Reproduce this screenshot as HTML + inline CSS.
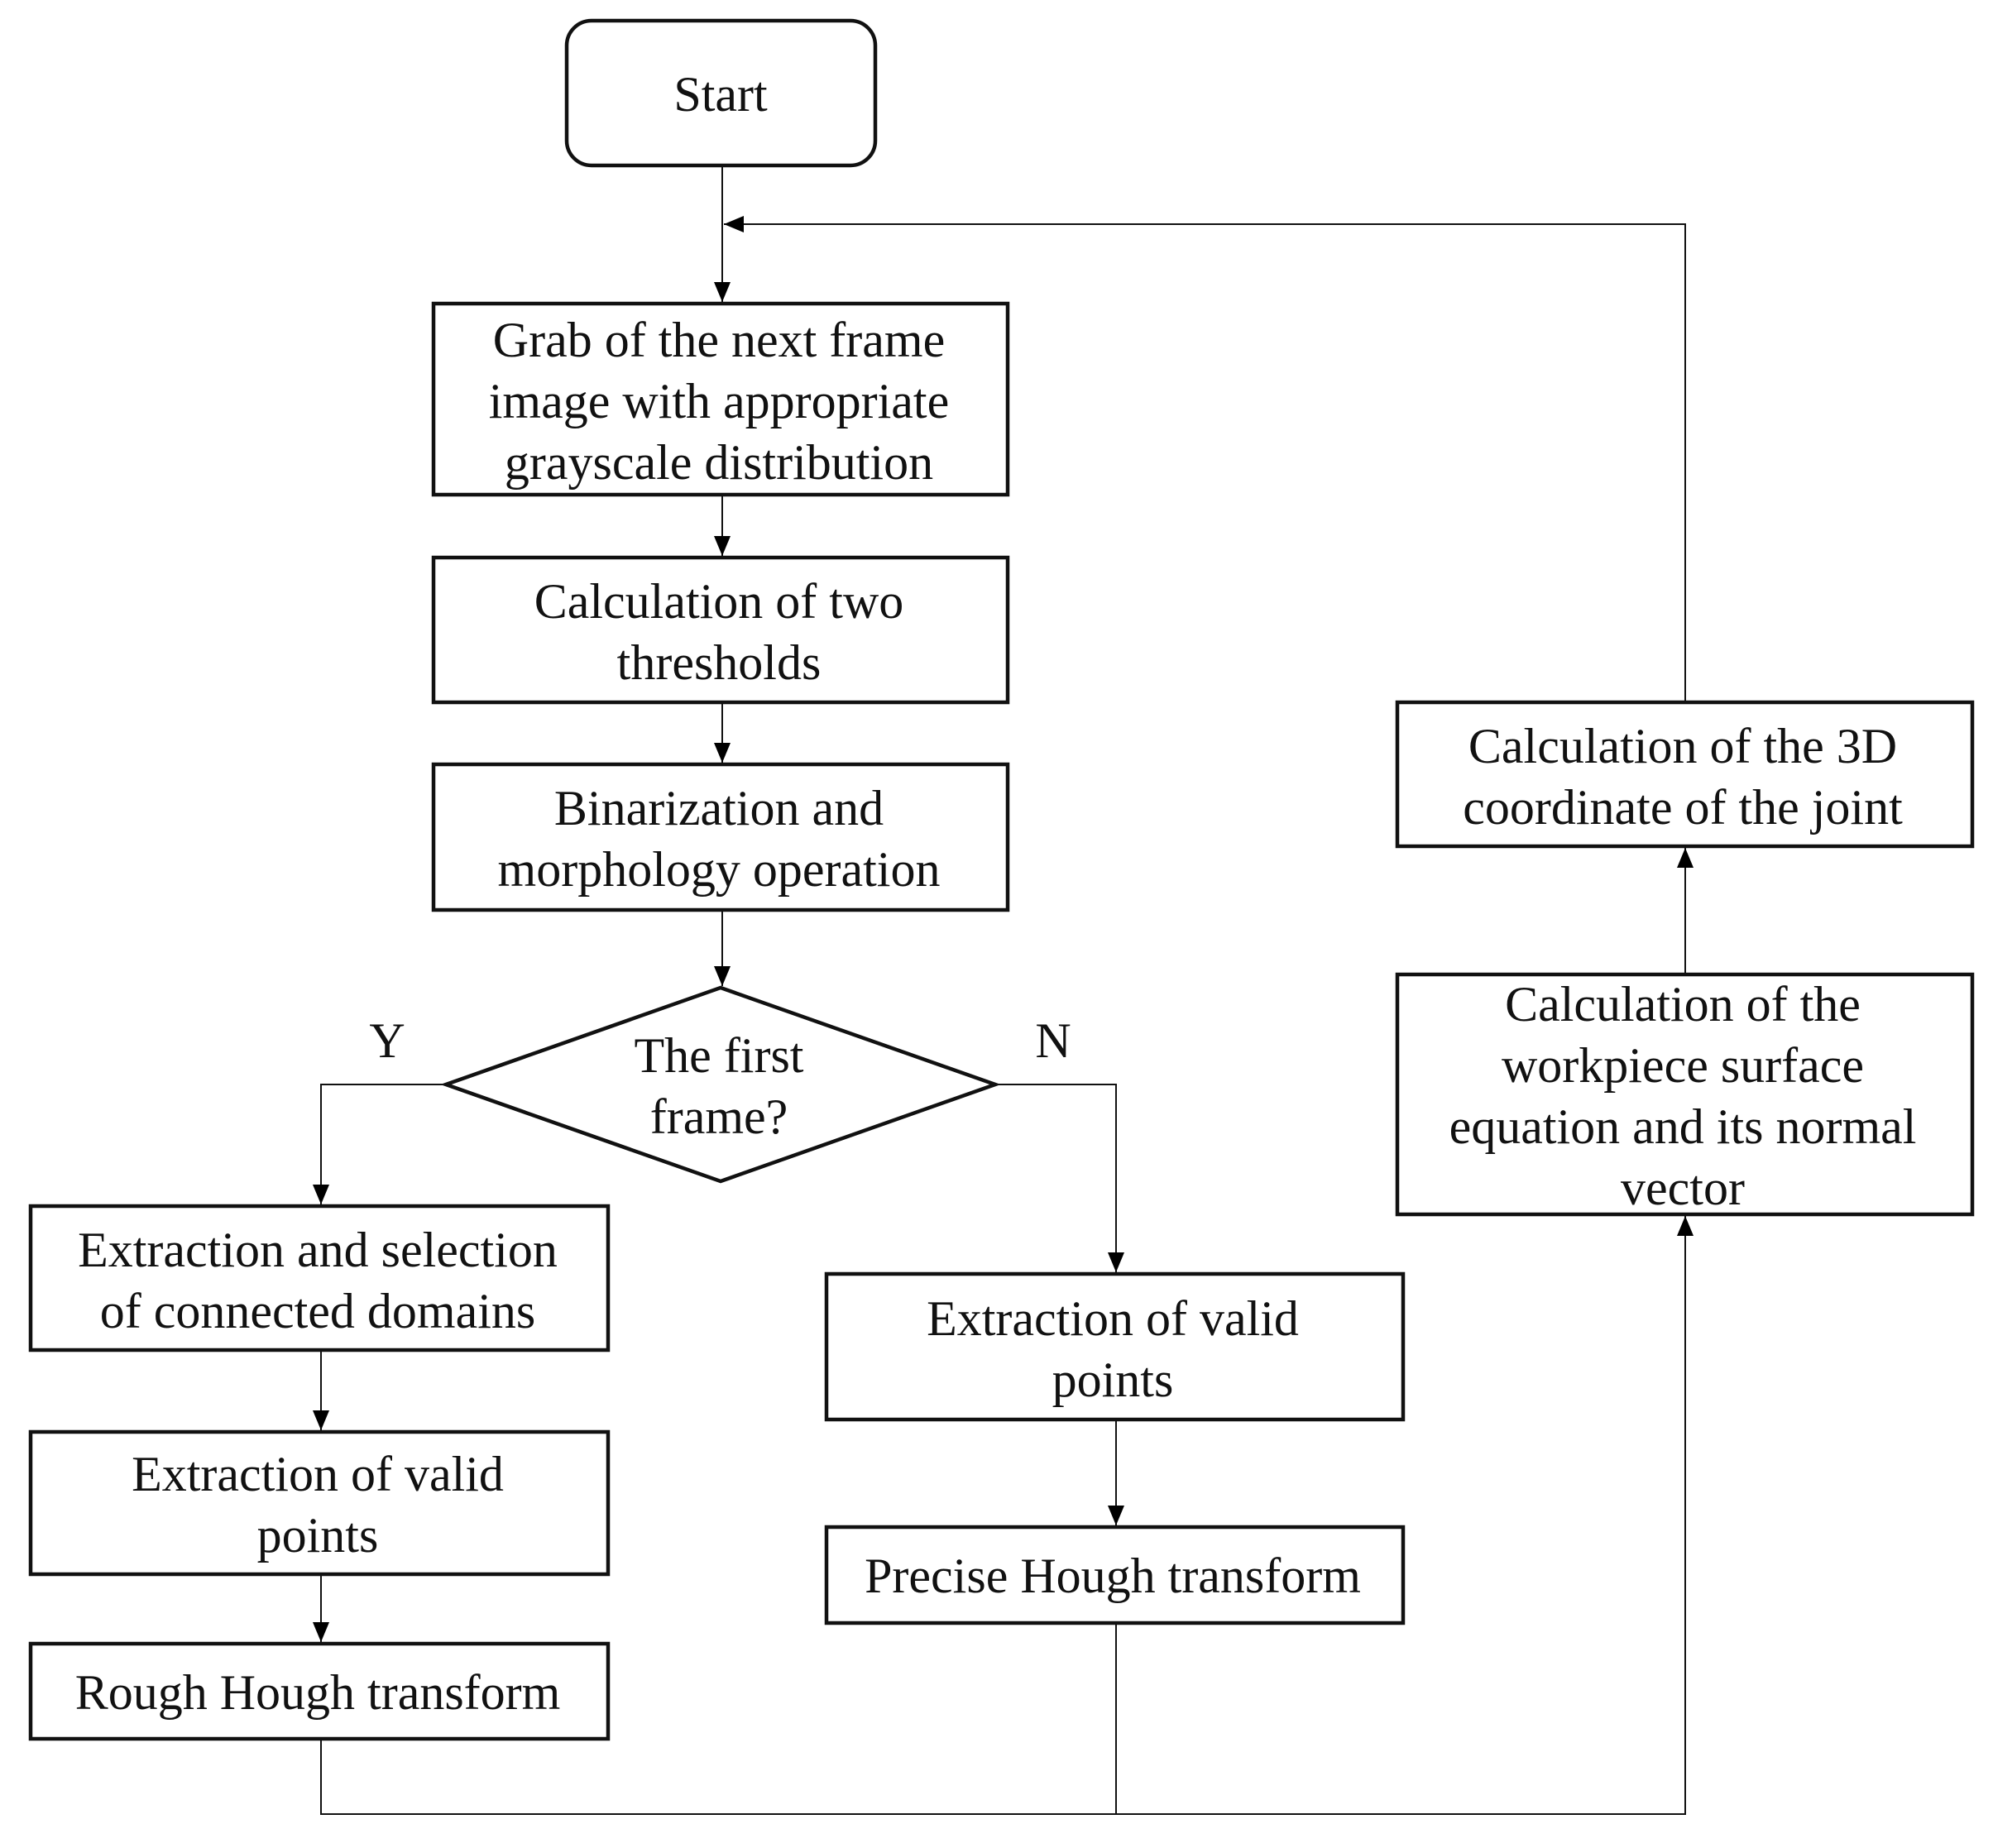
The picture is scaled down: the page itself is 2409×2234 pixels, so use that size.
<!DOCTYPE html>
<html><head><meta charset="utf-8"><style>
html,body{margin:0;padding:0;background:#fff}
svg text{font-family:"Liberation Serif",serif;font-size:60px;fill:#111}
</style></head><body>
<svg width="2409" height="2229" viewBox="0 0 2409 2229" xmlns="http://www.w3.org/2000/svg">
<defs>
<marker id="b" viewBox="0 0 24 20" markerWidth="24" markerHeight="20" refX="24" refY="10" orient="auto" markerUnits="userSpaceOnUse"><path d="M0,0 L24,10 L0,20 z" fill="#000"/></marker></defs>
<g fill="none" stroke="#111" stroke-width="4.5">
<rect x="685" y="25" width="373" height="175" rx="30"/>
<rect x="524" y="367" width="694" height="231"/>
<rect x="524" y="674" width="694" height="175"/>
<rect x="524" y="924" width="694" height="176"/>
<polygon points="539,1311 871,1194 1203,1311 871,1428"/>
<rect x="37" y="1458" width="698" height="174"/>
<rect x="37" y="1731" width="698" height="172"/>
<rect x="37" y="1987" width="698" height="115"/>
<rect x="999" y="1540" width="697" height="176"/>
<rect x="999" y="1846" width="697" height="116"/>
<rect x="1689" y="849" width="695" height="174"/>
<rect x="1689" y="1178" width="695" height="290"/>
</g>
<g fill="none" stroke="#111" stroke-width="2">
<line x1="873" y1="200" x2="873" y2="365" marker-end="url(#b)"/>
<polyline points="2037,849 2037,271 875,271" marker-end="url(#b)"/>
<line x1="873" y1="598" x2="873" y2="672" marker-end="url(#b)"/>
<line x1="873" y1="849" x2="873" y2="922" marker-end="url(#b)"/>
<line x1="873" y1="1100" x2="873" y2="1192" marker-end="url(#b)"/>
<polyline points="539,1311 388,1311 388,1456" marker-end="url(#b)"/>
<polyline points="1203,1311 1349,1311 1349,1538" marker-end="url(#b)"/>
<line x1="388" y1="1632" x2="388" y2="1729" marker-end="url(#b)"/>
<line x1="388" y1="1903" x2="388" y2="1985" marker-end="url(#b)"/>
<line x1="1349" y1="1716" x2="1349" y2="1844" marker-end="url(#b)"/>
<polyline points="388,2102 388,2193 2037,2193 2037,1470" marker-end="url(#b)"/>
<line x1="1349" y1="1962" x2="1349" y2="2193"/>
<line x1="2037" y1="1178" x2="2037" y2="1025" marker-end="url(#b)"/>
</g>
<g text-anchor="middle">
<text x="871" y="134">Start</text>
<text x="869" y="431">Grab of the next frame</text>
<text x="869" y="505">image with appropriate</text>
<text x="869" y="579">grayscale distribution</text>
<text x="869" y="747">Calculation of two</text>
<text x="869" y="821">thresholds</text>
<text x="869" y="997">Binarization and</text>
<text x="869" y="1071">morphology operation</text>
<text x="869" y="1296">The first</text>
<text x="869" y="1370">frame?</text>
<text x="468" y="1278">Y</text>
<text x="1273" y="1278">N</text>
<text x="384" y="1531">Extraction and selection</text>
<text x="384" y="1605">of connected domains</text>
<text x="384" y="1802">Extraction of valid</text>
<text x="384" y="1876">points</text>
<text x="384" y="2066">Rough Hough transform</text>
<text x="1345" y="1614">Extraction of valid</text>
<text x="1345" y="1688">points</text>
<text x="1345" y="1925">Precise Hough transform</text>
<text x="2034" y="922">Calculation of the 3D</text>
<text x="2034" y="996">coordinate of the joint</text>
<text x="2034" y="1234">Calculation of the</text>
<text x="2034" y="1308">workpiece surface</text>
<text x="2034" y="1382">equation and its normal</text>
<text x="2034" y="1456">vector</text>
</g>
</svg>
</body></html>
